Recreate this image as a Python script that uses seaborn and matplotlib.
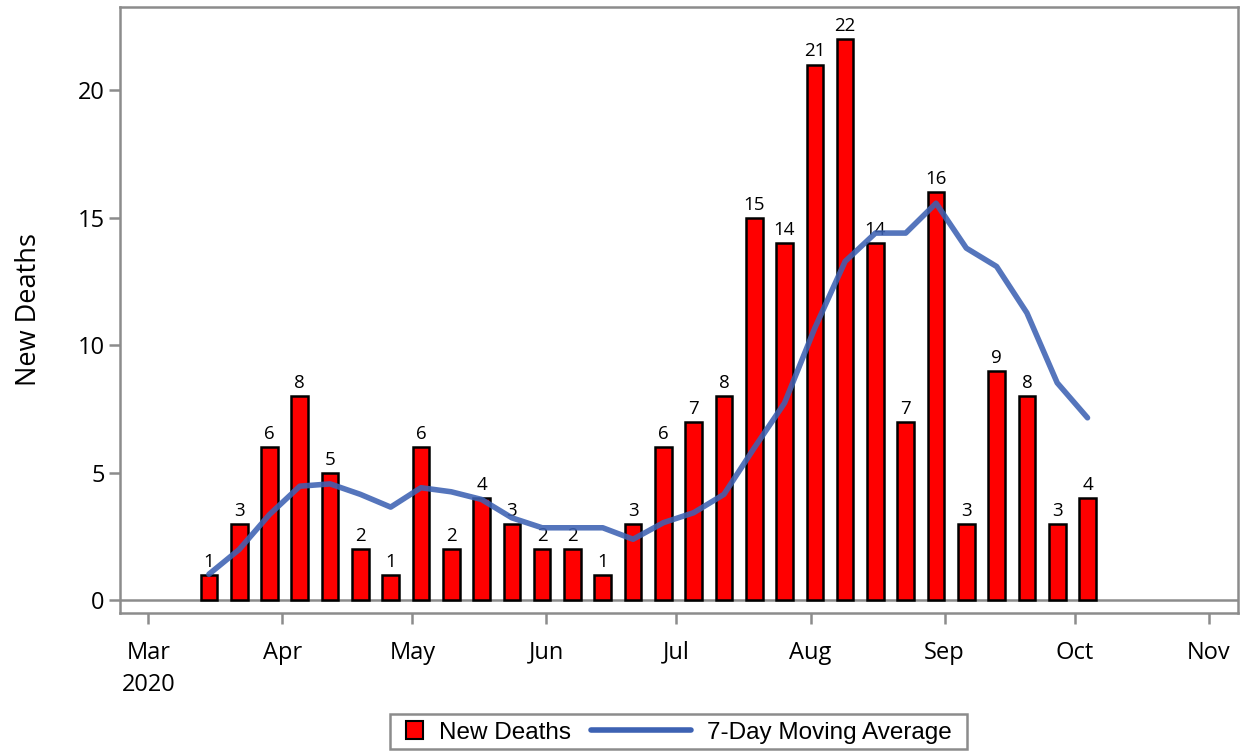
import numpy as np
import pandas as pd
import matplotlib
matplotlib.use("Agg")
import matplotlib.pyplot as plt
import matplotlib.dates as mdates
from matplotlib.patches import Patch, Rectangle
from matplotlib.lines import Line2D
from matplotlib.legend_handler import HandlerPatch, HandlerLine2D
import seaborn as sns

# ---- data ----
week_start = "2020-03-15"
n_weeks = 30
new_deaths = [1, 3, 6, 8, 5, 2, 1, 6, 2, 4, 3, 2, 2, 1, 3,
              6, 7, 8, 15, 14, 21, 22, 14, 7, 16, 3, 9, 8, 3, 4]
moving_avg = [1.03, 2.0, 3.37, 4.48, 4.57, 4.16, 3.66, 4.42, 4.26, 3.96,
              3.24, 2.85, 2.85, 2.85, 2.4, 3.05, 3.44, 4.16, 5.98, 7.74,
              10.68, 13.29, 14.4, 14.4, 15.57, 13.81, 13.09, 11.27, 8.53, 7.16]
month_ticks = ["2020-03-01", "2020-04-01", "2020-05-01", "2020-06-01", "2020-07-01",
               "2020-08-01", "2020-09-01", "2020-10-01", "2020-11-01"]
month_labels = ["Mar\n2020", "Apr", "May", "Jun", "Jul", "Aug", "Sep", "Oct", "Nov"]
y_ticks = [0, 5, 10, 15, 20]

dates = pd.date_range(week_start, periods=n_weeks, freq="7D")
xnum = mdates.date2num(dates.to_pydatetime())
df = pd.DataFrame({"x": xnum, "deaths": new_deaths, "avg": moving_avg})

sns.set_theme(style="white")
plt.rcParams["font.family"] = ["Open Sans", "DejaVu Sans"]
plt.rcParams["text.color"] = "black"
plt.rcParams["axes.labelcolor"] = "black"
plt.rcParams["xtick.color"] = "black"
plt.rcParams["ytick.color"] = "black"

GRAY = "#8c8c8c"
LINEC = "#3d62b3"
fig = plt.figure(figsize=(12.44, 7.55), dpi=100)
ax = fig.add_axes([120 / 1244, 1 - 613 / 755, (1238 - 120) / 1244, (613 - 7) / 755])

sns.barplot(data=df, x="x", y="deaths", native_scale=True, width=0.55,
            color="#ff0000", edgecolor="black", linewidth=1.8, saturation=1,
            ax=ax, zorder=2)
for c in ax.containers:
    ax.bar_label(c, padding=3.0, fontsize=13.5, color="black")

sns.lineplot(data=df, x="x", y="avg", color=LINEC, linewidth=4, alpha=0.88,
             ax=ax, zorder=3)

ax.axhline(0, color=GRAY, lw=1.8, zorder=1)

x0 = mdates.date2num(pd.Timestamp("2020-03-01"))
x1 = mdates.date2num(pd.Timestamp("2020-11-01"))
ax.set_xlim(x0 - 6.54, x1 + 6.77)
ax.set_ylim(-0.49, 23.26)

ax.set_xticks(mdates.date2num(pd.to_datetime(month_ticks).to_pydatetime()))
ax.set_xticklabels(month_labels, fontsize=17, linespacing=1.45)
ax.set_yticks(y_ticks)
ax.set_yticklabels([str(v) for v in y_ticks], fontsize=17)
ax.tick_params(axis="both", which="both", length=8, width=1.8, color=GRAY,
               direction="out", bottom=True, left=True)
ax.tick_params(axis="y", pad=3)
ax.tick_params(axis="x", pad=12)
for s in ax.spines.values():
    s.set_color(GRAY)
    s.set_linewidth(1.8)

ax.set_xlabel("")
ax.set_ylabel("New Deaths", fontsize=19.5, labelpad=25)


class SquareHandler(HandlerPatch):
    def create_artists(self, legend, orig_handle, xdescent, ydescent, width, height,
                       fontsize, trans):
        s = width
        r = Rectangle((-xdescent, -ydescent + (height - s) / 2), s, s,
                      facecolor="#ff0000", edgecolor="black", linewidth=1.5,
                      transform=trans)
        return [r]


class LongLineHandler(HandlerLine2D):
    def create_artists(self, legend, orig_handle, xdescent, ydescent, width, height,
                       fontsize, trans):
        extra = fontsize * 3.4
        y = height / 2 - ydescent
        ln = Line2D([-xdescent - extra, -xdescent + width], [y, y],
                    color=LINEC, lw=4, transform=trans)
        return [ln]


handles = [Patch(facecolor="#ff0000", edgecolor="black", linewidth=1.5),
           Line2D([0], [0], color=LINEC, lw=4)]
leg = fig.legend(handles, ["New Deaths", "7-Day Moving Average"], loc="lower center",
                 bbox_to_anchor=(0.5455, 0.012), ncol=2, frameon=False,
                 handlelength=0.72, handleheight=0.95,
                 columnspacing=4.2, borderpad=0.1, handletextpad=0.65,
                 borderaxespad=0.0,
                 prop={"family": ["Liberation Sans", "DejaVu Sans"], "size": 17.5},
                 handler_map={Patch: SquareHandler(), Line2D: LongLineHandler()})

# frame around the legend with extra horizontal padding
fig.canvas.draw()
bb = leg.get_window_extent().transformed(fig.transFigure.inverted())
padx, pady = 13 / 1244, 3 / 755
frame = Rectangle((bb.x0 - padx, bb.y0 - pady), bb.width + 2 * padx, bb.height + 2 * pady,
                  transform=fig.transFigure, facecolor="white", edgecolor=GRAY,
                  linewidth=1.8, zorder=0)
fig.add_artist(frame)

fig.savefig("out.png", dpi=100)
